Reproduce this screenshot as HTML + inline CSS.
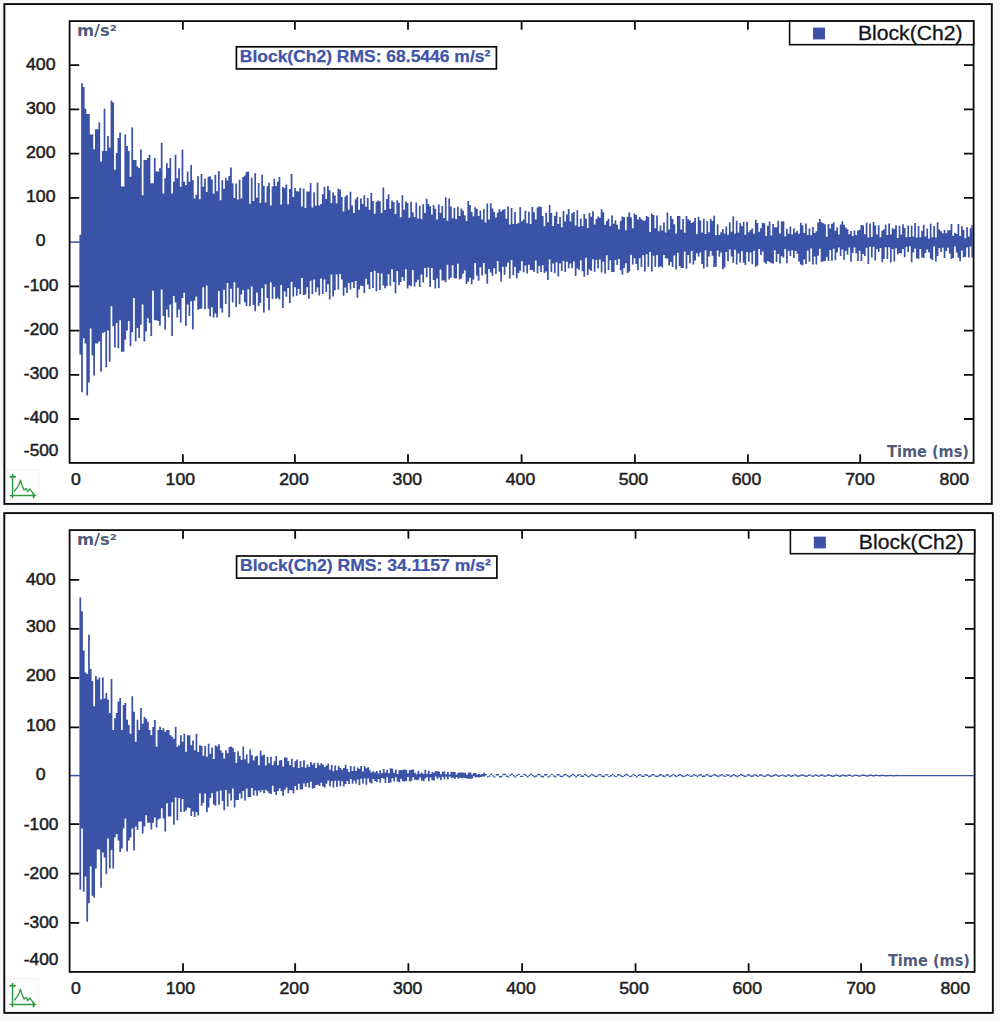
<!DOCTYPE html>
<html lang="en"><head><meta charset="utf-8"><title>Block(Ch2) time waveforms</title>
<style>
html,body{margin:0;padding:0;background:#f8f8fb;}
body{width:1000px;height:1021px;overflow:hidden;}
svg{display:block;}
.ax{font-family:"Liberation Sans",Arial,sans-serif;font-size:16.3px;fill:#1e1e22;stroke:#1e1e22;stroke-width:0.5px;}
.lg{font-family:"Liberation Sans",Arial,sans-serif;font-size:20px;fill:#141418;stroke:#141418;stroke-width:0.3px;}
.rms{font-family:"Liberation Sans",Arial,sans-serif;font-size:16.5px;font-weight:bold;fill:#4155a8;stroke:#4155a8;stroke-width:0.25px;}
.ttl{font-family:"DejaVu Sans","Liberation Sans",sans-serif;font-size:15.6px;font-weight:bold;fill:#525a7a;}
</style></head><body>
<svg width="1000" height="1021" viewBox="0 0 1000 1021">
<defs><filter id="sf" x="-1%" y="-5%" width="102%" height="110%"><feGaussianBlur stdDeviation="0.35"/></filter></defs>
<rect x="4.35" y="4.1" width="987.45" height="499.8" fill="#ffffff" stroke="#0a0a0a" stroke-width="1.9"/>
<path d="M79.40 234.82V234.8H81.13V83.2H82.86V87.0H84.60V108.7H86.33V113.9H88.06V113.9H89.79V134.4H91.52V134.4H93.26V149.3H94.99V129.2H96.72V129.2H98.45V122.3H100.18V161.4H101.92V151.1H103.65V108.7H105.38V151.1H107.11V135.9H108.84V147.4H110.58V100.4H112.31V102.4H114.04V169.7H115.77V153.0H117.50V138.1H119.24V132.5H120.97V186.5H122.70V186.5H124.43V134.4H126.16V145.9H127.90V151.1H129.63V176.8H131.36V127.5H133.09V160.1H134.82V160.1H136.56V166.4H138.29V167.9H140.02V149.6H141.75V195.2H143.48V160.1H145.22V160.1H146.95V158.0H148.68V154.8H150.41V183.3H152.14V183.3H153.88V158.0H155.61V171.6H157.34V171.6H159.07V168.2H160.80V142.8H162.54V193.5H164.27V178.3H166.00V163.2H167.73V167.9H169.46V158.0H171.20V193.5H172.93V181.8H174.66V154.8H176.39V178.3H178.12V168.2H179.86V186.8H181.59V149.6H183.32V181.8H185.05V185.0H186.78V171.6H188.52V181.8H190.25V165.1H191.98V180.0H193.71V198.6H195.44V194.8H197.18V176.3H198.91V199.2H200.64V174.0H202.37V186.7H204.10V178.6H205.84V192.1H207.57V176.7H209.30V176.3H211.03V179.6H212.76V193.7H214.50V174.7H216.23V191.3H217.96V170.9H219.69V200.2H221.42V180.3H223.16V188.8H224.89V177.8H226.62V180.4H228.35V175.9H230.08V167.4H231.82V183.2H233.55V197.9H235.28V183.6H237.01V199.5H238.74V179.8H240.48V198.4H242.21V177.0H243.94V175.6H245.67V171.9H247.40V171.6H249.14V203.7H250.87V177.7H252.60V201.1H254.33V173.3H256.06V197.8H257.80V183.0H259.53V203.1H261.26V174.8H262.99V185.7H264.72V202.4H266.46V186.3H268.19V182.7H269.92V205.4H271.65V186.5H273.38V178.7H275.12V185.9H276.85V181.8H278.58V177.0H280.31V204.5H282.04V187.0H283.78V188.2H285.51V184.5H287.24V204.3H288.97V189.1H290.70V174.0H292.44V197.1H294.17V188.1H295.90V191.3H297.63V191.4H299.36V187.8H301.10V206.4H302.83V188.5H304.56V208.0H306.29V191.4H308.02V191.6H309.76V182.9H311.49V207.4H313.22V192.3H314.95V205.8H316.68V182.4H318.42V205.5H320.15V204.0H321.88V194.2H323.61V186.7H325.34V199.0H327.08V186.1H328.81V190.3H330.54V203.0H332.27V192.5H334.00V195.5H335.74V203.2H337.47V188.7H339.20V189.4H340.93V197.1H342.66V211.6H344.40V196.6H346.13V195.1H347.86V209.8H349.59V191.7H351.32V205.4H353.06V213.1H354.79V199.2H356.52V196.9H358.25V209.8H359.98V198.6H361.72V204.0H363.45V195.3H365.18V206.7H366.91V198.0H368.64V209.8H370.38V192.9H372.11V200.9H373.84V213.8H375.57V201.8H377.30V200.5H379.04V201.3H380.77V213.1H382.50V187.6H384.23V210.1H385.96V199.0H387.70V194.3H389.43V208.7H391.16V200.4H392.89V201.9H394.62V214.1H396.36V200.2H398.09V202.7H399.82V217.2H401.55V195.3H403.28V209.8H405.02V201.4H406.75V202.9H408.48V217.8H410.21V201.8H411.94V212.2H413.68V217.1H415.41V202.5H417.14V218.5H418.87V205.7H420.60V218.9H422.34V204.3H424.07V212.9H425.80V198.8H427.53V203.9H429.26V206.2H431.00V214.5H432.73V205.1H434.46V208.8H436.19V219.6H437.92V204.5H439.66V213.1H441.39V206.0H443.12V218.0H444.85V197.3H446.58V220.8H448.32V198.5H450.05V206.5H451.78V218.3H453.51V207.7H455.24V219.0H456.98V206.8H458.71V215.9H460.44V208.4H462.17V210.4H463.90V215.2H465.64V220.9H467.37V201.0H469.10V204.9H470.83V211.9H472.56V216.2H474.30V207.3H476.03V208.7H477.76V216.1H479.49V210.6H481.22V219.6H482.96V209.0H484.69V222.5H486.42V203.5H488.15V219.5H489.88V203.2H491.62V208.6H493.35V212.0H495.08V217.5H496.81V212.7H498.54V209.3H500.28V211.5H502.01V209.8H503.74V209.2H505.47V218.7H507.20V206.4H508.94V224.5H510.67V207.9H512.40V224.1H514.13V211.9H515.86V223.9H517.60V223.1H519.33V207.2H521.06V221.3H522.79V219.5H524.52V210.7H526.26V223.3H527.99V211.8H529.72V224.1H531.45V207.1H533.18V212.2H534.92V219.5H536.65V207.5H538.38V206.2H540.11V206.9H541.84V216.0H543.58V226.2H545.31V212.7H547.04V222.3H548.77V205.1H550.50V213.0H552.24V226.1H553.97V216.1H555.70V211.8H557.43V224.1H559.16V217.1H560.90V227.2H562.63V211.1H564.36V221.6H566.09V214.6H567.82V209.1H569.56V221.4H571.29V213.3H573.02V211.9H574.75V225.6H576.48V210.2H578.22V226.7H579.95V218.6H581.68V225.9H583.41V214.0H585.14V218.7H586.88V228.1H588.61V212.7H590.34V216.7H592.07V211.3H593.80V224.5H595.54V218.9H597.27V216.5H599.00V217.7H600.73V209.2H602.46V212.3H604.20V224.8H605.93V221.0H607.66V218.8H609.39V226.3H611.12V215.5H612.86V223.8H614.59V220.2H616.32V224.8H618.05V229.2H619.78V221.0H621.52V216.4H623.25V217.2H624.98V230.2H626.71V216.7H628.44V212.2H630.18V217.3H631.91V228.3H633.64V213.4H635.37V214.9H637.10V219.5H638.84V217.1H640.57V219.1H642.30V220.6H644.03V220.5H645.76V215.9H647.50V217.1H649.23V232.1H650.96V213.5H652.69V215.1H654.42V228.3H656.16V215.6H657.89V231.2H659.62V225.5H661.35V230.6H663.08V222.4H664.82V232.5H666.55V212.5H668.28V229.4H670.01V215.9H671.74V219.0H673.48V224.3H675.21V233.6H676.94V215.9H678.67V216.1H680.40V229.6H682.14V218.9H683.87V232.8H685.60V216.0H687.33V219.3H689.06V220.2H690.80V222.9H692.53V221.8H694.26V218.1H695.99V233.9H697.72V216.8H699.46V220.6H701.19V232.4H702.92V218.7H704.65V234.0H706.38V221.0H708.12V232.3H709.85V219.0H711.58V220.9H713.31V215.7H715.04V235.3H716.78V224.3H718.51V235.0H720.24V232.3H721.97V229.1H723.70V233.5H725.44V226.6H727.17V234.7H728.90V222.2H730.63V231.7H732.36V216.4H734.10V233.6H735.83V220.8H737.56V232.4H739.29V223.1H741.02V226.3H742.76V221.8H744.49V234.8H746.22V221.8H747.95V232.2H749.68V230.0H751.42V228.6H753.15V233.8H754.88V219.7H756.61V223.0H758.34V231.7H760.08V228.3H761.81V222.8H763.54V223.3H765.27V235.9H767.00V225.8H768.74V221.6H770.47V235.4H772.20V223.9H773.93V227.3H775.66V227.2H777.40V220.8H779.13V233.5H780.86V221.5H782.59V221.2H784.32V236.2H786.06V228.7H787.79V233.8H789.52V226.6H791.25V234.5H792.98V228.3H794.72V232.4H796.45V230.7H798.18V233.7H799.91V222.8H801.64V225.3H803.38V233.1H805.11V223.6H806.84V235.1H808.57V228.4H810.30V235.2H812.04V226.9H813.77V233.0H815.50V231.3H817.23V222.5H818.96V219.1H820.70V222.3H822.43V223.3H824.16V224.2H825.89V236.7H827.62V224.0H829.36V228.6H831.09V223.7H832.82V222.3H834.55V230.8H836.28V227.2H838.02V234.5H839.75V224.5H841.48V221.3H843.21V224.7H844.94V227.4H846.68V229.2H848.41V234.3H850.14V230.9H851.87V236.0H853.60V230.5H855.34V235.0H857.07V230.4H858.80V229.7H860.53V224.9H862.26V225.4H864.00V234.2H865.73V222.5H867.46V237.5H869.19V223.5H870.92V237.0H872.66V222.0H874.39V225.4H876.12V234.5H877.85V225.3H879.58V237.2H881.32V230.5H883.05V229.5H884.78V224.4H886.51V234.9H888.24V223.4H889.98V234.4H891.71V228.2H893.44V229.1H895.17V225.2H896.90V238.0H898.64V225.7H900.37V234.6H902.10V224.3H903.83V228.1H905.56V237.2H907.30V225.4H909.03V237.0H910.76V225.7H912.49V236.5H914.22V223.0H915.96V237.5H917.69V225.9H919.42V237.2H921.15V230.8H922.88V224.7H924.62V236.6H926.35V228.4H928.08V238.4H929.81V223.7H931.54V237.3H933.28V225.9H935.01V237.4H936.74V222.2H938.47V229.5H940.20V231.3H941.94V233.3H943.67V229.9H945.40V233.2H947.13V230.3H948.86V230.2H950.60V224.1H952.33V235.7H954.06V233.1H955.79V234.1H957.52V224.1H959.26V236.1H960.99V226.2H962.72V230.1H964.45V238.2H966.18V227.3H967.92V236.5H969.65V228.3H971.38V224.9H972.80V257.6H971.38V246.6H969.65V257.6H967.92V247.4H966.18V256.7H964.45V257.4H962.72V250.5H960.99V261.2H959.26V257.4H957.52V252.6H955.79V246.4H954.06V258.0H952.33V259.0H950.60V253.6H948.86V247.7H947.13V251.1H945.40V258.0H943.67V247.8H941.94V252.0H940.20V248.1H938.47V255.9H936.74V261.5H935.01V246.4H933.28V260.2H931.54V258.8H929.81V252.2H928.08V249.6H926.35V253.1H924.62V258.0H922.88V257.5H921.15V249.1H919.42V258.7H917.69V258.4H915.96V248.5H914.22V252.5H912.49V262.2H910.76V246.2H909.03V251.9H907.30V246.8H905.56V257.3H903.83V249.1H902.10V253.6H900.37V253.1H898.64V254.6H896.90V248.3H895.17V261.6H893.44V249.0H891.71V262.5H889.98V247.3H888.24V258.9H886.51V247.2H884.78V259.0H883.05V262.3H881.32V247.9H879.58V251.9H877.85V249.0H876.12V260.5H874.39V246.9H872.66V257.6H870.92V246.7H869.19V263.9H867.46V247.8H865.73V256.1H864.00V253.9H862.26V261.0H860.53V250.7H858.80V261.0H857.07V253.3H855.34V247.6H853.60V253.1H851.87V261.7H850.14V247.4H848.41V254.7H846.68V250.9H844.94V259.7H843.21V249.5H841.48V256.1H839.75V247.6H838.02V252.5H836.28V260.3H834.55V248.7H832.82V260.7H831.09V250.0H829.36V260.9H827.62V256.9H825.89V260.9H824.16V261.3H822.43V262.1H820.70V248.8H818.96V255.8H817.23V264.4H815.50V256.4H813.77V264.5H812.04V248.6H810.30V261.7H808.57V250.6H806.84V264.0H805.11V259.5H803.38V265.5H801.64V264.5H799.91V261.6H798.18V253.8H796.45V251.0H794.72V258.0H792.98V250.2H791.25V256.0H789.52V250.9H787.79V263.3H786.06V249.0H784.32V257.5H782.59V256.2H780.86V263.5H779.13V254.0H777.40V261.9H775.66V250.3H773.93V263.6H772.20V263.3H770.47V262.0H768.74V261.0H767.00V263.7H765.27V262.2H763.54V251.4H761.81V255.0H760.08V248.9H758.34V265.6H756.61V266.7H754.88V250.7H753.15V264.2H751.42V252.5H749.68V261.7H747.95V251.9H746.22V265.0H744.49V262.7H742.76V251.2H741.02V262.6H739.29V253.4H737.56V264.5H735.83V249.8H734.10V262.7H732.36V256.4H730.63V249.4H728.90V261.2H727.17V251.9H725.44V267.5H723.70V269.2H721.97V252.4H720.24V256.7H718.51V250.5H716.78V266.8H715.04V267.0H713.31V255.8H711.58V251.0H709.85V256.6H708.12V267.1H706.38V250.2H704.65V268.5H702.92V263.9H701.19V252.6H699.46V256.6H697.72V253.3H695.99V260.5H694.26V264.5H692.53V250.9H690.80V263.2H689.06V255.0H687.33V268.8H685.60V251.6H683.87V268.1H682.14V267.7H680.40V266.1H678.67V252.8H676.94V269.5H675.21V255.6H673.48V267.1H671.74V261.9H670.01V265.6H668.28V258.4H666.55V258.5H664.82V255.0H663.08V267.5H661.35V266.3H659.62V267.3H657.89V255.0H656.16V266.9H654.42V255.8H652.69V271.5H650.96V252.1H649.23V266.7H647.50V254.3H645.76V271.4H644.03V255.2H642.30V266.9H640.57V258.3H638.84V270.3H637.10V263.9H635.37V258.3H633.64V264.5H631.91V254.8H630.18V271.4H628.44V273.0H626.71V263.3H624.98V268.0H623.25V274.8H621.52V270.2H619.78V258.9H618.05V265.1H616.32V259.9H614.59V272.1H612.86V272.1H611.12V260.2H609.39V270.0H607.66V255.3H605.93V273.6H604.20V261.8H602.46V272.4H600.73V259.4H599.00V268.4H597.27V260.1H595.54V271.8H593.80V259.2H592.07V270.8H590.34V269.4H588.61V274.9H586.88V257.8H585.14V276.7H583.41V271.2H581.68V260.2H579.95V269.7H578.22V268.4H576.48V276.1H574.75V261.5H573.02V268.2H571.29V263.4H569.56V268.2H567.82V261.8H566.09V272.0H564.36V260.9H562.63V271.1H560.90V263.5H559.16V276.6H557.43V262.2H555.70V273.0H553.97V263.4H552.24V272.1H550.50V259.5H548.77V279.9H547.04V271.6H545.31V273.1H543.58V265.2H541.84V272.1H540.11V265.9H538.38V273.2H536.65V260.6H534.92V272.1H533.18V270.0H531.45V269.9H529.72V264.7H527.99V273.6H526.26V265.5H524.52V272.2H522.79V261.2H521.06V270.7H519.33V273.1H517.60V278.2H515.86V267.1H514.13V275.3H512.40V259.9H510.67V278.5H508.94V262.6H507.20V266.8H505.47V274.7H503.74V266.8H502.01V281.5H500.28V271.7H498.54V261.0H496.81V273.9H495.08V268.3H493.35V275.7H491.62V272.5H489.88V269.1H488.15V283.8H486.42V274.2H484.69V263.0H482.96V275.5H481.22V267.2H479.49V280.7H477.76V275.6H476.03V263.0H474.30V279.5H472.56V284.3H470.83V277.8H469.10V281.5H467.37V283.9H465.64V270.3H463.90V273.7H462.17V278.4H460.44V279.6H458.71V263.8H456.98V278.4H455.24V278.3H453.51V265.2H451.78V277.8H450.05V279.4H448.32V264.8H446.58V282.2H444.85V280.4H443.12V280.6H441.39V269.4H439.66V288.3H437.92V278.5H436.19V288.4H434.46V280.1H432.73V267.9H431.00V286.9H429.26V267.5H427.53V277.2H425.80V268.0H424.07V282.5H422.34V274.5H420.60V286.9H418.87V279.8H417.14V282.2H415.41V286.5H413.68V270.1H411.94V286.2H410.21V285.2H408.48V288.4H406.75V269.2H405.02V280.8H403.28V277.1H401.55V282.1H399.82V285.2H398.09V270.9H396.36V293.3H394.62V282.0H392.89V269.3H391.16V285.8H389.43V274.3H387.70V285.9H385.96V288.2H384.23V285.6H382.50V273.4H380.77V290.1H379.04V273.1H377.30V291.2H375.57V270.7H373.84V288.0H372.11V271.9H370.38V289.0H368.64V284.4H366.91V278.7H365.18V293.1H363.45V286.0H361.72V285.5H359.98V289.5H358.25V297.7H356.52V281.1H354.79V287.9H353.06V282.2H351.32V289.4H349.59V283.1H347.86V292.9H346.13V287.5H344.40V295.8H342.66V279.6H340.93V274.0H339.20V289.7H337.47V274.4H335.74V290.3H334.00V296.4H332.27V274.4H330.54V299.4H328.81V284.2H327.08V291.9H325.34V279.5H323.61V294.0H321.88V278.4H320.15V295.4H318.42V287.6H316.68V291.9H314.95V279.5H313.22V294.3H311.49V280.8H309.76V298.8H308.02V287.3H306.29V294.5H304.56V295.0H302.83V278.1H301.10V294.3H299.36V289.0H297.63V295.8H295.90V287.2H294.17V296.6H292.44V281.7H290.70V303.1H288.97V288.1H287.24V296.7H285.51V291.5H283.78V307.9H282.04V284.9H280.31V299.4H278.58V297.7H276.85V298.8H275.12V287.1H273.38V299.1H271.65V282.2H269.92V310.3H268.19V298.0H266.46V284.2H264.72V312.6H262.99V288.2H261.26V303.0H259.53V306.1H257.80V292.4H256.06V311.2H254.33V305.0H252.60V286.6H250.87V306.3H249.14V289.2H247.40V306.1H245.67V302.2H243.94V290.0H242.21V294.6H240.48V304.2H238.74V287.7H237.01V306.9H235.28V282.3H233.55V302.5H231.82V288.8H230.08V317.3H228.35V282.9H226.62V304.0H224.89V289.8H223.16V312.5H221.42V308.3H219.69V291.0H217.96V317.5H216.23V313.6H214.50V317.5H212.76V307.3H211.03V316.4H209.30V308.8H207.57V285.5H205.84V309.2H204.10V287.2H202.37V308.5H200.64V308.9H198.91V309.7H197.18V296.4H195.44V300.7H193.71V329.5H191.98V301.2H190.25V315.9H188.52V304.4H186.78V325.8H185.05V292.7H183.32V297.9H181.59V322.4H179.86V309.6H178.12V317.4H176.39V302.5H174.66V296.0H172.93V336.0H171.20V304.4H169.46V317.4H167.73V309.6H166.00V329.5H164.27V315.9H162.54V289.5H160.80V325.8H159.07V321.1H157.34V320.2H155.61V320.2H153.88V290.8H152.14V336.0H150.41V323.0H148.68V318.3H146.95V331.4H145.22V341.6H143.48V304.4H141.75V324.8H140.02V337.9H138.29V328.0H136.56V341.6H134.82V297.9H133.09V332.3H131.36V346.2H129.63V321.1H127.90V330.4H126.16V339.7H124.43V351.8H122.70V351.8H120.97V320.2H119.24V348.3H117.50V323.0H115.77V347.5H114.04V326.3H112.31V306.3H110.58V361.7H108.84V330.4H107.11V367.3H105.38V331.9H103.65V333.2H101.92V371.7H100.18V341.6H98.45V343.4H96.72V343.4H94.99V375.4H93.26V355.5H91.52V328.6H89.79V382.5H88.06V395.5H86.33V343.4H84.60V338.2H82.86V392.2H81.13V354.6H79.40Z" fill="#3b52a6" filter="url(#sf)"/>
<rect x="69.6" y="241.35" width="10.3" height="1.5" fill="#3b52a6"/>
<path d="M182.9 462.9v-8.6M182.9 21.1v8.6M294.9 462.9v-8.6M294.9 21.1v8.6M408 462.9v-8.6M408 21.1v8.6M521.6 462.9v-8.6M521.6 21.1v8.6M634.9 462.9v-8.6M634.9 21.1v8.6M747.9 462.9v-8.6M747.9 21.1v8.6M860.2 462.9v-8.6M69.6 65.18h9.6M973.6 65.18h-9.6M69.6 109.41h9.6M973.6 109.41h-9.6M69.6 153.64h9.6M973.6 153.64h-9.6M69.6 197.87h9.6M973.6 197.87h-9.6M69.6 286.33h9.6M973.6 286.33h-9.6M69.6 330.56h9.6M973.6 330.56h-9.6M69.6 374.79h9.6M973.6 374.79h-9.6M69.6 419.02h9.6M973.6 419.02h-9.6" stroke="#0a0a0a" stroke-width="1.8" fill="none"/>
<rect x="69.6" y="21.1" width="904" height="441.8" fill="none" stroke="#0a0a0a" stroke-width="1.8"/>
<rect x="789.6" y="21.1" width="184" height="23.6" fill="#ffffff" stroke="#0a0a0a" stroke-width="1.6"/>
<rect x="813" y="27.6" width="12" height="11.8" fill="#3b52a6"/>
<text class="lg" x="858" y="40.2" textLength="104.5" lengthAdjust="spacingAndGlyphs">Block(Ch2)</text>
<rect x="236.4" y="46.8" width="260" height="22.1" fill="#ffffff" stroke="#0a0a0a" stroke-width="1.7"/>
<text class="rms" x="239.8" y="62.2" textLength="250.5" lengthAdjust="spacingAndGlyphs">Block(Ch2) RMS: 68.5446 m/s²</text>
<text class="ttl" x="77" y="35.6" textLength="40" lengthAdjust="spacingAndGlyphs">m/s²</text>
<text class="ttl" x="887" y="457.3" textLength="82" lengthAdjust="spacingAndGlyphs">Time (ms)</text>
<text class="ax" x="25.99" y="69.53" textLength="29.61" lengthAdjust="spacingAndGlyphs">400</text>
<text class="ax" x="25.99" y="113.76" textLength="29.61" lengthAdjust="spacingAndGlyphs">300</text>
<text class="ax" x="25.99" y="157.99" textLength="29.61" lengthAdjust="spacingAndGlyphs">200</text>
<text class="ax" x="25.99" y="202.22" textLength="29.61" lengthAdjust="spacingAndGlyphs">100</text>
<text class="ax" x="35.86" y="246.45" textLength="9.87" lengthAdjust="spacingAndGlyphs">0</text>
<text class="ax" x="23.89" y="290.68" textLength="34.61" lengthAdjust="spacingAndGlyphs">-100</text>
<text class="ax" x="23.89" y="334.91" textLength="34.61" lengthAdjust="spacingAndGlyphs">-200</text>
<text class="ax" x="23.89" y="379.14" textLength="34.61" lengthAdjust="spacingAndGlyphs">-300</text>
<text class="ax" x="23.89" y="423.37" textLength="34.61" lengthAdjust="spacingAndGlyphs">-400</text>
<text class="ax" x="23.89" y="456.15" textLength="34.61" lengthAdjust="spacingAndGlyphs">-500</text>
<text class="ax" x="71.1" y="485.2" textLength="9.8" lengthAdjust="spacingAndGlyphs">0</text>
<text class="ax" x="165.6" y="485.2" textLength="29.4" lengthAdjust="spacingAndGlyphs">100</text>
<text class="ax" x="279.3" y="485.2" textLength="29.4" lengthAdjust="spacingAndGlyphs">200</text>
<text class="ax" x="392.6" y="485.2" textLength="29.4" lengthAdjust="spacingAndGlyphs">300</text>
<text class="ax" x="505.8" y="485.2" textLength="29.4" lengthAdjust="spacingAndGlyphs">400</text>
<text class="ax" x="618.7" y="485.2" textLength="29.4" lengthAdjust="spacingAndGlyphs">500</text>
<text class="ax" x="731.8" y="485.2" textLength="29.4" lengthAdjust="spacingAndGlyphs">600</text>
<text class="ax" x="845.3" y="485.2" textLength="29.4" lengthAdjust="spacingAndGlyphs">700</text>
<text class="ax" x="939.6" y="485.2" textLength="29.4" lengthAdjust="spacingAndGlyphs">800</text>
<rect x="7.4" y="469.6" width="31.4" height="32.4" fill="#fdfdfd" stroke="#f0f0f0" stroke-width="0.8"/>
<g fill="none" stroke="#2f9a40" stroke-width="1.5" stroke-linejoin="round" stroke-linecap="round">
<path d="M12.6 474.6 V497.4 M10.2 495.6 H35.6"/>
<path d="M10.4 476.7 h4.6 M33.6 493.8 v3.6" stroke-width="1.9"/>
<path d="M14.6 491 L17.2 487.6 L19.2 484 L20.4 480.2 L22 485 L24 490 L26.2 488.4 L27.8 491.6 L29.8 489 L31.6 491.4 L33.4 493.6" stroke-width="1.3"/>
</g>
<g transform="translate(60 0) scale(1.0011 1) translate(-60 0)">
<rect x="4.35" y="513.1" width="987.45" height="499.8" fill="#ffffff" stroke="#0a0a0a" stroke-width="1.9"/>
<path d="M79.40 597.53V597.5H81.13V611.2H82.86V650.4H84.60V672.5H86.33V674.1H88.06V634.7H89.79V669.1H91.52V680.9H93.26V706.2H94.99V675.9H96.72V679.5H98.45V677.5H100.18V699.6H101.92V677.5H103.65V698.6H105.38V693.0H107.11V699.6H108.84V713.1H110.58V679.1H112.31V730.1H114.04V718.3H115.77V713.1H117.50V701.6H119.24V698.0H120.97V730.1H122.70V705.0H124.43V703.0H126.16V719.7H127.90V725.1H129.63V733.8H131.36V696.2H133.09V711.7H134.82V741.8H136.56V719.7H138.29V730.1H140.02V708.0H141.75V723.7H143.48V717.1H145.22V718.7H146.95V721.7H148.68V730.1H150.41V735.2H152.14V727.1H153.88V720.1H155.61V746.8H157.34V730.1H159.07V726.7H160.80V730.1H162.54V728.3H164.27V731.7H166.00V730.1H167.73V730.1H169.46V735.2H171.20V736.8H172.93V738.8H174.66V726.7H176.39V746.8H178.12V745.2H179.86V735.2H181.59V741.8H183.32V733.8H185.05V751.8H186.78V735.2H188.52V735.2H190.25V745.2H191.98V740.4H193.71V750.2H195.44V733.8H197.18V752.0H198.91V745.2H200.64V745.9H202.37V755.8H204.10V746.0H205.84V756.8H207.57V743.8H209.30V753.8H211.03V747.6H212.76V759.0H214.50V745.5H216.23V746.6H217.96V744.3H219.69V750.2H221.42V752.7H223.16V758.5H224.89V750.2H226.62V753.2H228.35V747.1H230.08V746.5H231.82V747.7H233.55V751.9H235.28V762.9H237.01V751.3H238.74V756.1H240.48V760.1H242.21V746.6H243.94V759.3H245.67V754.6H247.40V763.2H249.14V749.4H250.87V755.0H252.60V760.4H254.33V756.4H256.06V755.8H257.80V765.3H259.53V750.8H261.26V755.4H262.99V754.7H264.72V765.5H266.46V757.1H268.19V763.2H269.92V756.8H271.65V765.3H273.38V761.2H275.12V756.1H276.85V765.3H278.58V760.6H280.31V760.1H282.04V766.5H283.78V757.5H285.51V757.5H287.24V760.9H288.97V765.2H290.70V758.8H292.44V767.2H294.17V761.1H295.90V759.4H297.63V767.9H299.36V760.9H301.10V767.1H302.83V760.3H304.56V767.7H306.29V764.6H308.02V766.7H309.76V762.1H311.49V764.8H313.22V762.7H314.95V768.0H316.68V762.7H318.42V765.3H320.15V763.3H321.88V764.5H323.61V767.1H325.34V765.5H327.08V763.8H328.81V769.8H330.54V764.9H332.27V771.3H334.00V765.5H335.74V770.2H337.47V766.1H339.20V768.1H340.93V769.8H342.66V767.9H344.40V764.8H346.13V768.9H347.86V772.1H349.59V765.9H351.32V771.1H353.06V766.3H354.79V771.0H356.52V767.5H358.25V769.0H359.98V766.1H361.72V771.6H363.45V766.0H365.18V768.2H366.91V767.3H368.64V770.3H370.38V772.4H372.11V771.2H373.84V772.5H375.57V771.0H377.30V773.4H379.04V770.2H380.77V773.2H382.50V769.0H384.23V772.4H385.96V769.8H387.70V773.2H389.43V768.3H391.16V768.8H392.89V772.8H394.62V769.7H396.36V774.1H398.09V770.3H399.82V769.9H401.55V770.0H403.28V769.3H405.02V770.0H406.75V773.3H408.48V770.2H410.21V769.7H411.94V769.6H413.68V772.7H415.41V774.2H417.14V770.7H418.87V773.7H420.60V772.5H422.34V774.1H424.07V769.9H425.80V773.7H427.53V770.8H429.26V774.0H431.00V772.0H432.73V772.7H434.46V771.0H436.19V771.3H437.92V771.5H439.66V774.3H441.39V771.7H443.12V771.6H444.85V774.2H446.58V772.0H448.32V774.6H450.05V772.0H451.78V771.7H453.51V772.0H455.24V774.4H456.98V772.7H458.71V772.6H460.44V772.5H462.17V772.7H463.90V772.7H465.64V774.8H467.37V772.6H469.10V772.6H470.83V774.5H472.56V773.0H474.30V773.1H476.03V774.6H477.76V774.0H479.49V774.6H481.22V774.0H482.96V772.8H484.69V774.0H486.42V776.2H488.15V775.3H489.88V773.4H491.62V775.2H493.35V776.2H495.08V774.0H496.81V773.9H498.54V776.0H500.28V775.7H502.01V773.8H503.74V773.8H505.47V775.6H507.20V776.2H508.94V774.6H510.67V773.5H512.40V775.0H514.13V776.2H515.86V774.6H517.60V773.7H519.33V775.7H521.06V775.7H522.79V773.7H524.52V774.6H526.26V776.1H527.99V774.8H529.72V773.6H531.45V774.8H533.18V776.1H534.92V775.3H536.65V773.8H538.38V774.1H540.11V775.7H541.84V775.8H543.58V774.0H545.31V774.1H547.04V775.9H548.77V775.2H550.50V773.7H552.24V775.2H553.97V775.9H555.70V774.2H557.43V774.0H559.16V775.6H560.90V775.8H562.63V774.3H564.36V773.8H566.09V775.0H567.82V776.0H569.56V775.0H571.29V773.7H573.02V774.8H574.75V776.0H576.48V774.6H578.22V773.9H579.95V775.6H581.68V775.5H583.41V773.8H585.14V774.6H586.88V776.0H588.61V775.1H590.34V773.8H592.07V774.5H593.80V775.8H595.54V775.6H597.27V774.2H599.00V773.9H600.73V775.4H602.46V775.8H604.20V774.2H605.93V774.2H607.66V775.9H609.39V775.1H611.12V773.8H612.86V775.2H614.59V775.9H616.32V774.3H618.05V773.9H619.78V775.3H621.52V775.9H623.25V774.8H624.98V773.8H626.71V774.7H628.44V775.9H630.18V775.2H631.91V773.9H633.64V774.7H635.37V775.9H637.10V774.6H638.84V774.0H640.57V775.6H642.30V775.5H644.03V773.9H645.76V774.5H647.50V775.8H649.23V775.3H650.96V774.0H652.69V774.2H654.42V775.5H656.16V775.8H657.89V774.5H659.62V773.9H661.35V775.3H663.08V775.8H664.82V774.2H666.55V774.3H668.28V775.8H670.01V775.0H671.74V773.9H673.48V775.1H675.21V775.8H676.94V774.6H678.67V773.9H680.40V775.0H682.14V775.9H683.87V775.1H685.60V774.0H687.33V774.4H689.06V775.7H690.80V775.3H692.53V774.0H694.26V774.7H695.99V775.8H697.72V774.6H699.46V774.1H701.19V775.5H702.92V775.4H704.65V774.1H706.38V774.4H708.12V775.6H709.85V775.5H711.58V774.4H713.31V774.0H715.04V775.1H716.78V775.8H718.51V774.8H720.24V774.0H721.97V775.2H723.70V775.7H725.44V774.3H727.17V774.4H728.90V775.7H730.63V775.0H732.36V774.0H734.10V775.0H735.83V775.7H737.56V774.9H739.29V774.0H741.02V774.6H742.76V775.6H744.49V775.4H746.22V774.3H747.95V774.3H749.68V775.5H751.42V775.3H753.15V774.1H754.88V774.8H756.61V775.7H758.34V774.6H760.08V774.2H761.81V775.4H763.54V775.4H765.27V774.3H767.00V774.3H768.74V775.3H770.47V775.6H772.20V774.7H773.93V774.1H775.66V774.8H777.40V775.6H779.13V774.9H780.86V774.2H782.59V775.1H784.32V775.5H786.06V774.4H787.79V774.5H789.52V775.6H791.25V775.0H792.98V774.2H794.72V774.8H796.45V775.6H798.18V775.1H799.91V774.3H801.64V774.4H803.38V775.3H805.11V775.4H806.84V774.5H808.57V774.4H810.30V775.4H812.04V775.2H813.77V774.3H815.50V774.8H817.23V775.5H818.96V774.6H820.70V774.3H822.43V775.2H824.16V775.4H825.89V774.6H827.62V774.3H829.36V775.0H831.09V775.5H832.82V775.0H834.55V774.3H836.28V774.7H838.02V775.4H839.75V774.9H841.48V774.3H843.21V775.1H844.94V775.3H846.68V774.5H848.41V774.6H850.14V775.4H851.87V775.0H853.60V774.4H855.34V774.7H857.07V775.3H858.80V775.2H860.53V774.6H862.26V774.5H864.00V775.0H865.73V775.2H867.46V774.7H869.19V774.6H870.92V775.1H872.66V775.0H874.39V774.6H876.12V774.9H877.85V775.1H879.58V774.8H881.32V774.7H883.05V774.9H884.78V775.0H886.51V774.9H888.24V774.8H889.98V774.9H891.71V775.0H893.44V774.9H895.17V774.8H896.90V774.9H898.64V774.9H900.37V774.9H902.10V774.9H903.83V774.9H905.56V774.9H907.30V774.9H909.03V774.9H910.76V774.9H912.49V774.9H914.22V774.9H915.96V774.9H917.69V774.9H919.42V774.9H921.15V774.9H922.88V774.9H924.62V774.9H926.35V774.9H928.08V774.9H929.81V774.9H931.54V774.9H933.28V774.9H935.01V774.9H936.74V774.9H938.47V774.9H940.20V774.9H941.94V774.9H943.67V774.9H945.40V774.9H947.13V774.9H948.86V774.9H950.60V774.9H952.33V774.9H954.06V774.9H955.79V774.9H957.52V774.9H959.26V774.9H960.99V774.9H962.72V774.9H964.45V774.9H966.18V774.9H967.92V774.9H969.65V774.9H971.38V774.9H972.80V776.3H971.38V776.3H969.65V776.3H967.92V776.3H966.18V776.3H964.45V776.3H962.72V776.3H960.99V776.3H959.26V776.3H957.52V776.3H955.79V776.3H954.06V776.3H952.33V776.3H950.60V776.3H948.86V776.3H947.13V776.3H945.40V776.3H943.67V776.3H941.94V776.3H940.20V776.3H938.47V776.3H936.74V776.3H935.01V776.3H933.28V776.3H931.54V776.3H929.81V776.3H928.08V776.3H926.35V776.3H924.62V776.3H922.88V776.3H921.15V776.3H919.42V776.3H917.69V776.3H915.96V776.3H914.22V776.3H912.49V776.3H910.76V776.3H909.03V776.3H907.30V776.3H905.56V776.3H903.83V776.3H902.10V776.3H900.37V776.3H898.64V776.3H896.90V776.3H895.17V776.3H893.44V776.4H891.71V776.3H889.98V776.2H888.24V776.3H886.51V776.5H884.78V776.4H883.05V776.1H881.32V776.2H879.58V776.5H877.85V776.3H876.12V776.1H874.39V776.5H872.66V776.5H870.92V776.0H869.19V776.2H867.46V776.7H865.73V776.5H864.00V776.0H862.26V776.1H860.53V776.6H858.80V776.7H857.07V776.1H855.34V775.8H853.60V776.5H851.87V776.8H850.14V776.1H848.41V775.9H846.68V776.8H844.94V776.5H843.21V775.8H841.48V776.4H839.75V776.9H838.02V776.2H836.28V775.7H834.55V776.4H832.82V776.9H831.09V776.4H829.36V775.7H827.62V776.0H825.89V776.8H824.16V776.7H822.43V775.8H820.70V776.1H818.96V776.9H817.23V776.3H815.50V775.7H813.77V776.7H812.04V776.8H810.30V775.8H808.57V775.9H806.84V776.9H805.11V776.8H803.38V775.9H801.64V775.7H799.91V776.5H798.18V777.0H796.45V776.2H794.72V775.6H792.98V776.4H791.25V777.0H789.52V776.0H787.79V775.8H786.06V776.9H784.32V776.5H782.59V775.6H780.86V776.3H779.13V777.1H777.40V776.3H775.66V775.6H773.93V776.2H772.20V777.0H770.47V776.7H768.74V775.7H767.00V775.8H765.27V776.9H763.54V776.8H761.81V775.7H760.08V776.0H758.34V777.1H756.61V776.2H754.88V775.6H753.15V776.8H751.42V776.9H749.68V775.8H747.95V775.7H746.22V776.8H744.49V777.1H742.76V776.1H741.02V775.5H739.29V776.3H737.56V777.2H735.83V776.4H734.10V775.5H732.36V776.4H730.63V777.2H728.90V775.9H727.17V775.7H725.44V777.1H723.70V776.6H721.97V775.4H720.24V776.2H718.51V777.2H716.78V776.6H715.04V775.5H713.31V775.8H711.58V777.0H709.85V777.0H708.12V775.8H706.38V775.5H704.65V776.9H702.92V777.0H701.19V775.5H699.46V776.0H697.72V777.3H695.99V776.2H694.26V775.4H692.53V776.8H690.80V777.1H689.06V775.8H687.33V775.4H685.60V776.6H683.87V777.3H682.14V776.4H680.40V775.4H678.67V776.0H676.94V777.3H675.21V776.6H673.48V775.3H671.74V776.4H670.01V777.3H668.28V775.7H666.55V775.7H664.82V777.2H663.08V776.7H661.35V775.4H659.62V776.0H657.89V777.2H656.16V776.9H654.42V775.6H652.69V775.5H650.96V776.8H649.23V777.3H647.50V775.9H645.76V775.4H644.03V776.9H642.30V777.0H640.57V775.4H638.84V776.1H637.10V777.4H635.37V776.1H633.64V775.3H631.91V776.7H630.18V777.3H628.44V776.1H626.71V775.3H624.98V776.2H623.25V777.3H621.52V776.8H619.78V775.4H618.05V775.8H616.32V777.3H614.59V776.6H612.86V775.2H611.12V776.5H609.39V777.3H607.66V775.6H605.93V775.6H604.20V777.2H602.46V776.9H600.73V775.4H599.00V775.6H597.27V777.1H595.54V777.3H593.80V775.9H592.07V775.2H590.34V776.5H588.61V777.4H586.88V776.1H585.14V775.3H583.41V777.0H581.68V777.1H579.95V775.3H578.22V776.1H576.48V777.5H574.75V776.2H573.02V775.2H571.29V776.5H569.56V777.5H567.82V776.5H566.09V775.2H564.36V775.8H562.63V777.3H560.90V777.1H559.16V775.4H557.43V775.6H555.70V777.4H553.97V776.6H552.24V775.1H550.50V776.6H548.77V777.4H547.04V775.6H545.31V775.5H543.58V777.2H541.84V777.2H540.11V775.6H538.38V775.3H536.65V776.7H534.92V777.5H533.18V776.3H531.45V775.1H529.72V776.3H527.99V777.6H526.26V776.1H524.52V775.1H522.79V777.1H521.06V777.1H519.33V775.1H517.60V776.0H515.86V777.7H514.13V776.4H512.40V775.0H510.67V776.1H508.94V777.6H507.20V777.0H505.47V775.3H503.74V775.3H502.01V777.2H500.28V777.5H498.54V775.4H496.81V775.4H495.08V777.6H493.35V776.6H491.62V774.9H489.88V776.7H488.15V777.6H486.42V775.5H484.69V776.5H482.96V776.6H481.22V777.1H479.49V777.5H477.76V776.9H476.03V777.4H474.30V776.3H472.56V778.6H470.83V778.8H469.10V778.8H467.37V778.6H465.64V778.1H463.90V777.7H462.17V778.2H460.44V777.8H458.71V778.7H456.98V776.9H455.24V779.0H453.51V777.6H451.78V777.7H450.05V776.4H448.32V779.2H446.58V776.7H444.85V779.3H443.12V776.7H441.39V780.2H439.66V777.2H437.92V778.8H436.19V776.5H434.46V780.4H432.73V780.2H431.00V777.5H429.26V781.2H427.53V777.0H425.80V778.4H424.07V781.2H422.34V780.4H420.60V777.6H418.87V779.8H417.14V780.3H415.41V779.8H413.68V777.3H411.94V780.8H410.21V781.6H408.48V777.0H406.75V781.0H405.02V781.5H403.28V781.2H401.55V778.8H399.82V782.2H398.09V781.5H396.36V777.2H394.62V781.6H392.89V778.3H391.16V782.4H389.43V783.0H387.70V777.3H385.96V783.1H384.23V778.8H382.50V778.1H380.77V782.8H379.04V779.0H377.30V782.2H375.57V780.9H373.84V778.9H372.11V783.5H370.38V782.5H368.64V778.5H366.91V784.7H365.18V778.3H363.45V783.4H361.72V778.8H359.98V785.2H358.25V779.5H356.52V783.5H354.79V780.4H353.06V783.8H351.32V779.1H349.59V783.9H347.86V780.9H346.13V783.9H344.40V786.4H342.66V781.2H340.93V786.3H339.20V780.8H337.47V787.0H335.74V780.8H334.00V787.5H332.27V781.2H330.54V786.3H328.81V780.6H327.08V783.8H325.34V787.4H323.61V786.4H321.88V782.8H320.15V785.9H318.42V784.7H316.68V785.1H314.95V788.0H313.22V788.8H311.49V781.8H309.76V787.7H308.02V783.1H306.29V786.9H304.56V783.6H302.83V789.2H301.10V789.6H299.36V783.8H297.63V789.9H295.90V786.1H294.17V793.4H292.44V790.2H290.70V790.1H288.97V793.3H287.24V787.5H285.51V789.7H283.78V795.8H282.04V791.2H280.31V788.2H278.58V790.9H276.85V795.1H275.12V791.9H273.38V785.8H271.65V793.9H269.92V793.3H268.19V791.2H266.46V789.8H264.72V793.2H262.99V790.1H261.26V792.3H259.53V790.5H257.80V795.7H256.06V790.5H254.33V795.5H252.60V788.1H250.87V797.0H249.14V796.9H247.40V788.4H245.67V800.4H243.94V790.9H242.21V798.5H240.48V793.4H238.74V799.9H237.01V799.9H235.28V807.6H233.55V788.6H231.82V800.6H230.08V793.6H228.35V806.4H226.62V790.0H224.89V810.3H223.16V801.1H221.42V790.4H219.69V804.8H217.96V791.5H216.23V805.7H214.50V804.6H212.76V793.2H211.03V798.1H209.30V807.6H207.57V812.2H205.84V793.6H204.10V802.7H202.37V805.7H200.64V793.6H198.91V815.6H197.18V812.0H195.44V816.9H193.71V811.5H191.98V816.0H190.25V808.1H188.52V807.6H186.78V810.5H185.05V811.9H183.32V799.1H181.59V812.0H179.86V797.9H178.12V820.2H176.39V797.6H174.66V824.8H172.93V802.3H171.20V816.4H169.46V816.4H167.73V803.3H166.00V831.4H164.27V818.4H162.54V808.3H160.80V818.4H159.07V819.4H157.34V827.4H155.61V817.4H153.88V822.8H152.14V829.4H150.41V822.8H148.68V822.8H146.95V815.3H145.22V826.4H143.48V833.4H141.75V821.4H140.02V821.4H138.29V830.0H136.56V826.4H134.82V850.5H133.09V828.4H131.36V837.4H129.63V840.5H127.90V851.5H126.16V818.4H124.43V828.4H122.70V848.5H120.97V852.1H119.24V840.5H117.50V834.0H115.77V837.4H114.04V868.6H112.31V850.1H110.58V868.6H108.84V838.5H107.11V874.2H105.38V857.5H103.65V852.5H101.92V887.7H100.18V849.5H98.45V849.5H96.72V868.6H94.99V897.7H93.26V895.7H91.52V866.2H89.79V903.2H88.06V921.8H86.33V876.6H84.60V891.7H82.86V828.4H81.13V889.7H79.40Z" fill="#3b52a6" filter="url(#sf)"/>
<rect x="69.6" y="774.85" width="10.3" height="1.5" fill="#3b52a6"/>
<path d="M182.9 971.9v-8.6M182.9 530.1v8.6M294.9 971.9v-8.6M294.9 530.1v8.6M408 971.9v-8.6M408 530.1v8.6M521.6 971.9v-8.6M521.6 530.1v8.6M634.9 971.9v-8.6M634.9 530.1v8.6M747.9 971.9v-8.6M747.9 530.1v8.6M860.2 971.9v-8.6M69.6 579.8h9.6M973.6 579.8h-9.6M69.6 628.8h9.6M973.6 628.8h-9.6M69.6 678h9.6M973.6 678h-9.6M69.6 727.3h9.6M973.6 727.3h-9.6M69.6 824.1h9.6M973.6 824.1h-9.6M69.6 873.72h9.6M973.6 873.72h-9.6M69.6 922.78h9.6M973.6 922.78h-9.6" stroke="#0a0a0a" stroke-width="1.8" fill="none"/>
<rect x="69.6" y="530.1" width="904" height="441.8" fill="none" stroke="#0a0a0a" stroke-width="1.8"/>
<rect x="789.6" y="530.1" width="184" height="23.6" fill="#ffffff" stroke="#0a0a0a" stroke-width="1.6"/>
<rect x="813" y="536.6" width="12" height="11.8" fill="#3b52a6"/>
<text class="lg" x="858" y="549.2" textLength="104.5" lengthAdjust="spacingAndGlyphs">Block(Ch2)</text>
<rect x="236.4" y="556" width="260" height="22.1" fill="#ffffff" stroke="#0a0a0a" stroke-width="1.7"/>
<text class="rms" x="239.8" y="570.9" textLength="250.5" lengthAdjust="spacingAndGlyphs">Block(Ch2) RMS: 34.1157 m/s²</text>
<text class="ttl" x="77" y="544.6" textLength="40" lengthAdjust="spacingAndGlyphs">m/s²</text>
<text class="ttl" x="887" y="966.3" textLength="82" lengthAdjust="spacingAndGlyphs">Time (ms)</text>
<text class="ax" x="25.99" y="584.65" textLength="29.61" lengthAdjust="spacingAndGlyphs">400</text>
<text class="ax" x="25.99" y="632.05" textLength="29.61" lengthAdjust="spacingAndGlyphs">300</text>
<text class="ax" x="25.99" y="681.15" textLength="29.61" lengthAdjust="spacingAndGlyphs">200</text>
<text class="ax" x="25.99" y="731.15" textLength="29.61" lengthAdjust="spacingAndGlyphs">100</text>
<text class="ax" x="35.86" y="779.55" textLength="9.87" lengthAdjust="spacingAndGlyphs">0</text>
<text class="ax" x="23.89" y="829.55" textLength="34.61" lengthAdjust="spacingAndGlyphs">-100</text>
<text class="ax" x="23.89" y="878.65" textLength="34.61" lengthAdjust="spacingAndGlyphs">-200</text>
<text class="ax" x="23.89" y="927.65" textLength="34.61" lengthAdjust="spacingAndGlyphs">-300</text>
<text class="ax" x="23.89" y="964.85" textLength="34.61" lengthAdjust="spacingAndGlyphs">-400</text>
<text class="ax" x="71.1" y="994.2" textLength="9.8" lengthAdjust="spacingAndGlyphs">0</text>
<text class="ax" x="165.6" y="994.2" textLength="29.4" lengthAdjust="spacingAndGlyphs">100</text>
<text class="ax" x="279.3" y="994.2" textLength="29.4" lengthAdjust="spacingAndGlyphs">200</text>
<text class="ax" x="392.6" y="994.2" textLength="29.4" lengthAdjust="spacingAndGlyphs">300</text>
<text class="ax" x="505.8" y="994.2" textLength="29.4" lengthAdjust="spacingAndGlyphs">400</text>
<text class="ax" x="618.7" y="994.2" textLength="29.4" lengthAdjust="spacingAndGlyphs">500</text>
<text class="ax" x="731.8" y="994.2" textLength="29.4" lengthAdjust="spacingAndGlyphs">600</text>
<text class="ax" x="845.3" y="994.2" textLength="29.4" lengthAdjust="spacingAndGlyphs">700</text>
<text class="ax" x="939.6" y="994.2" textLength="29.4" lengthAdjust="spacingAndGlyphs">800</text>
<rect x="7.4" y="978.6" width="31.4" height="32.4" fill="#fdfdfd" stroke="#f0f0f0" stroke-width="0.8"/>
<g fill="none" stroke="#2f9a40" stroke-width="1.5" stroke-linejoin="round" stroke-linecap="round">
<path d="M12.6 983.6 V1006.4 M10.2 1004.6 H35.6"/>
<path d="M10.4 985.7 h4.6 M33.6 1002.8 v3.6" stroke-width="1.9"/>
<path d="M14.6 1000 L17.2 996.6 L19.2 993 L20.4 989.2 L22 994 L24 999 L26.2 997.4 L27.8 1000.6 L29.8 998 L31.6 1000.4 L33.4 1002.6" stroke-width="1.3"/>
</g>
</g>
</svg></body></html>
